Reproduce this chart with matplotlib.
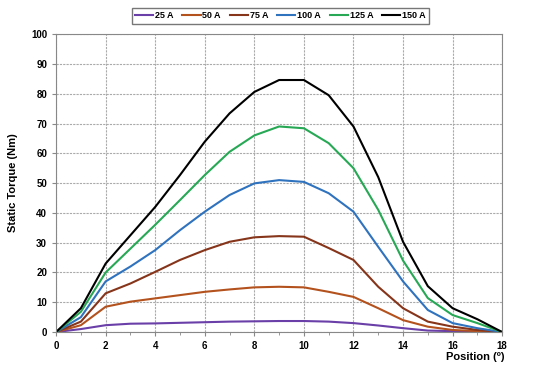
import matplotlib.pyplot as plt
import numpy as np

plt.rcParams['font.family'] = ['Liberation Sans', 'DejaVu Sans']

position = list(range(19))
labels = ['25 A', '50 A', '75 A', '100 A', '125 A', '150 A']
colors = ['#6A3FA8', '#B4521E', '#86351A', '#2F72BE', '#27A855', '#000000']

t25 = [0, 1.0, 2.3, 2.8, 2.9, 3.1, 3.3, 3.5, 3.6, 3.7, 3.7, 3.5, 3.0, 2.2, 1.3, 0.5, 0.3, 0.2, 0]
t50 = [0, 2.3, 8.5, 10.2, 11.3, 12.4, 13.5, 14.3, 15.0, 15.2, 15.0, 13.5, 11.8, 8.0, 4.0, 1.8, 0.7, 0.3, 0]
t75 = [0, 3.5, 13.0, 16.3, 20.2, 24.2, 27.5, 30.3, 31.8, 32.2, 32.0, 28.2, 24.2, 15.2, 8.0, 3.5, 1.8, 0.7, 0]
t100 = [0, 5.0, 17.0, 22.0, 27.5, 34.2, 40.4, 46.0, 49.9, 51.0, 50.4, 46.6, 40.4, 28.6, 17.0, 7.4, 3.0, 1.3, 0]
t125 = [0, 6.8, 20.0, 28.0, 36.0, 44.3, 52.7, 60.5, 66.0, 69.0, 68.4, 63.4, 55.0, 41.0, 24.0, 11.4, 5.7, 3.0, 0]
t150 = [0, 8.0, 23.0, 32.5, 42.0, 52.7, 63.9, 73.4, 80.6, 84.6, 84.6, 79.5, 69.0, 52.0, 30.3, 15.4, 8.0, 4.3, 0]

series = [t25, t50, t75, t100, t125, t150]

fig = plt.figure(figsize=(5.5, 3.71), dpi=100)
ax = fig.add_axes([0.102, 0.105, 0.811, 0.803])

for vals, lab, c in zip(series, labels, colors):
    ax.plot(position, vals, color=c, lw=1.5, label=lab)

ax.set_xlim(0, 18)
ax.set_ylim(0, 100)
ax.set_xticks(np.arange(0, 19, 2))
ax.set_xticks(np.arange(0, 19, 1), minor=True)
ax.set_yticks(np.arange(0, 101, 10))
ax.grid(True, which='major', color='#aaaaaa', linestyle=(0, (2, 1)), lw=0.8)
ax.tick_params(axis='both', labelsize=7, length=3, color='#888888')
ax.tick_params(axis='x', which='minor', length=2, color='#888888')
for lbl in ax.get_xticklabels() + ax.get_yticklabels():
    lbl.set_fontweight('bold')
for s in ax.spines.values():
    s.set_color('#888888')
    s.set_linewidth(0.8)

ax.set_ylabel('Static Torque (Nm)', fontsize=8, fontweight='bold', labelpad=9)
fig.text(0.918, 0.038, 'Position (º)', fontsize=8, fontweight='bold', ha='right', va='center')

leg = fig.legend(loc='upper center', bbox_to_anchor=(0.51, 0.99), ncol=6,
                 frameon=True, fancybox=False, handlelength=2.0,
                 handletextpad=0.2, columnspacing=1.0, borderpad=0.35,
                 prop={'weight': 'bold', 'size': 6.5})
leg.get_frame().set_edgecolor('#555555')
leg.get_frame().set_linewidth(1.0)

fig.savefig('out.png', dpi=100)
